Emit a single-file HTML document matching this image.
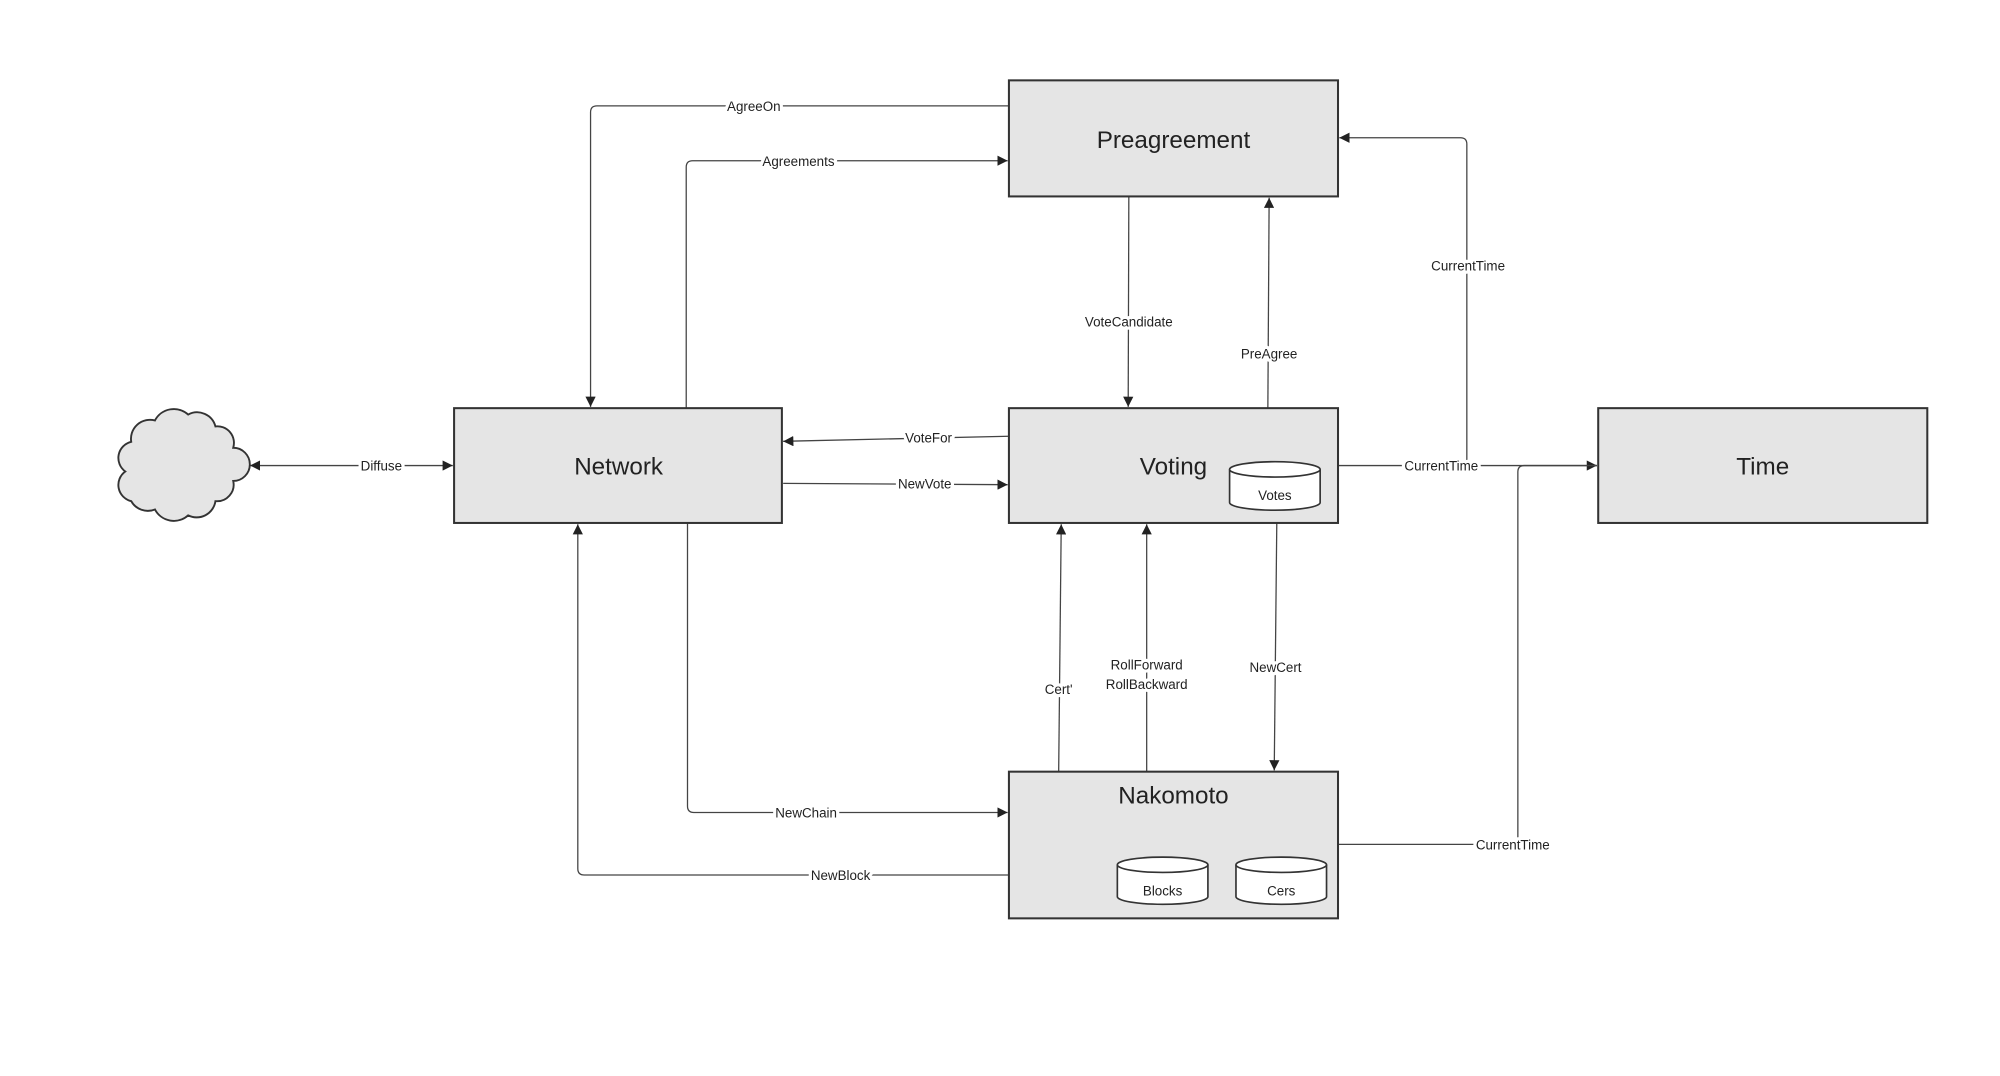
<!DOCTYPE html>
<html><head><meta charset="utf-8"><style>
html,body{margin:0;padding:0;background:#fff;}
svg{display:block;}
text{font-family:"Liberation Sans","DejaVu Sans",sans-serif;fill:#222;}
.b{fill:#e5e5e5;stroke:#333;stroke-width:1.6;}
.l{fill:none;stroke:#444;stroke-width:1;}
.t{font-size:19px;text-anchor:middle;}
.e{font-size:10.5px;text-anchor:middle;stroke:#fff;stroke-width:5px;paint-order:stroke;stroke-linejoin:round;}
.c{fill:#fff;stroke:#333;stroke-width:1.3;}
</style></head><body>
<svg width="2000" height="1076" viewBox="0 0 1568 843.6" preserveAspectRatio="none" xmlns="http://www.w3.org/2000/svg">
<defs>
<marker id="a" viewBox="0 0 10 10" refX="10" refY="5" markerWidth="8" markerHeight="8" orient="auto-start-reverse" markerUnits="userSpaceOnUse"><path d="M0,0 L10,5 L0,10 z" fill="#222"/></marker>
</defs>
<path class="l" d="M791,83 H468 Q463,83 463,88 V319" marker-end="url(#a)"/>
<path class="l" d="M538,320 V131 Q538,126 543,126 H790" marker-end="url(#a)"/>
<path class="l" d="M885,154 L884.5,319" marker-end="url(#a)"/>
<path class="l" d="M994,320 L995,155" marker-end="url(#a)"/>
<path class="l" d="M1150,365 V113 Q1150,108 1145,108 H1050" marker-end="url(#a)"/>
<path class="l" d="M1049,365 H1252" marker-end="url(#a)"/>
<path class="l" d="M1049,662 H1190 V370 Q1190,365 1195,365 H1252"/>
<path class="l" d="M791,342 L614,346" marker-end="url(#a)"/>
<path class="l" d="M614,379 L790,380" marker-end="url(#a)"/>
<path class="l" d="M196,365 H355" marker-start="url(#a)" marker-end="url(#a)"/>
<path class="l" d="M830,605 L832,411" marker-end="url(#a)"/>
<path class="l" d="M899,605 V411" marker-end="url(#a)"/>
<path class="l" d="M1001,410 L999,604" marker-end="url(#a)"/>
<path class="l" d="M539,410 V632 Q539,637 544,637 H790" marker-end="url(#a)"/>
<path class="l" d="M791,686 H458 Q453,686 453,681 V411" marker-end="url(#a)"/>
<rect class="b" x="791" y="63" width="258" height="91"/>
<text class="t" x="920" y="116">Preagreement</text>
<rect class="b" x="356" y="320" width="257" height="90"/>
<text class="t" x="485" y="372">Network</text>
<rect class="b" x="791" y="320" width="258" height="90"/>
<text class="t" x="920" y="372">Voting</text>
<rect class="b" x="1253" y="320" width="258" height="90"/>
<text class="t" x="1382" y="372">Time</text>
<rect class="b" x="791" y="605" width="258" height="115"/>
<text class="t" x="920" y="630">Nakomoto</text>
<g transform="translate(141,365) scale(0.93) translate(-141,-365)">
<path class="b" d="M100,395 a14 14 0 0 1 -5 -25 a14 14 0 0 1 5 -25 a16 16 0 0 1 20 -18 a18 18 0 0 1 28 -5 a16 16 0 0 1 23 10 a14 14 0 0 1 15 18 a14 14 0 0 1 0 28 a14 14 0 0 1 -15 17 a16 16 0 0 1 -23 12 a18 18 0 0 1 -28 -5 a16 16 0 0 1 -20 -7 z"/>
</g>
<g>
<path class="c" d="M964,368 V394 A35.5 6 0 0 0 1035,394 V368"/>
<ellipse class="c" cx="999.5" cy="368" rx="35.5" ry="6"/>
<text x="999.5" y="392" font-size="10.5" text-anchor="middle">Votes</text>
</g>
<g>
<path class="c" d="M876,678 V703 A35.5 6 0 0 0 947,703 V678"/>
<ellipse class="c" cx="911.5" cy="678" rx="35.5" ry="6"/>
<text x="911.5" y="702" font-size="10.5" text-anchor="middle">Blocks</text>
</g>
<g>
<path class="c" d="M969,678 V703 A35.5 6 0 0 0 1040,703 V678"/>
<ellipse class="c" cx="1004.5" cy="678" rx="35.5" ry="6"/>
<text x="1004.5" y="702" font-size="10.5" text-anchor="middle">Cers</text>
</g>
<text class="e" x="591" y="87">AgreeOn</text>
<text class="e" x="626" y="130">Agreements</text>
<text class="e" x="885" y="256">VoteCandidate</text>
<text class="e" x="995" y="281">PreAgree</text>
<text class="e" x="1151" y="212">CurrentTime</text>
<text class="e" x="1130" y="369">CurrentTime</text>
<text class="e" x="1186" y="666">CurrentTime</text>
<text class="e" x="728" y="347">VoteFor</text>
<text class="e" x="725" y="383">NewVote</text>
<text class="e" x="299" y="369">Diffuse</text>
<text class="e" x="830" y="544">Cert'</text>
<text class="e" x="899" y="525">RollForward</text>
<text class="e" x="899" y="540">RollBackward</text>
<text class="e" x="1000" y="527">NewCert</text>
<text class="e" x="632" y="641">NewChain</text>
<text class="e" x="659" y="690">NewBlock</text>
</svg>
</body></html>
